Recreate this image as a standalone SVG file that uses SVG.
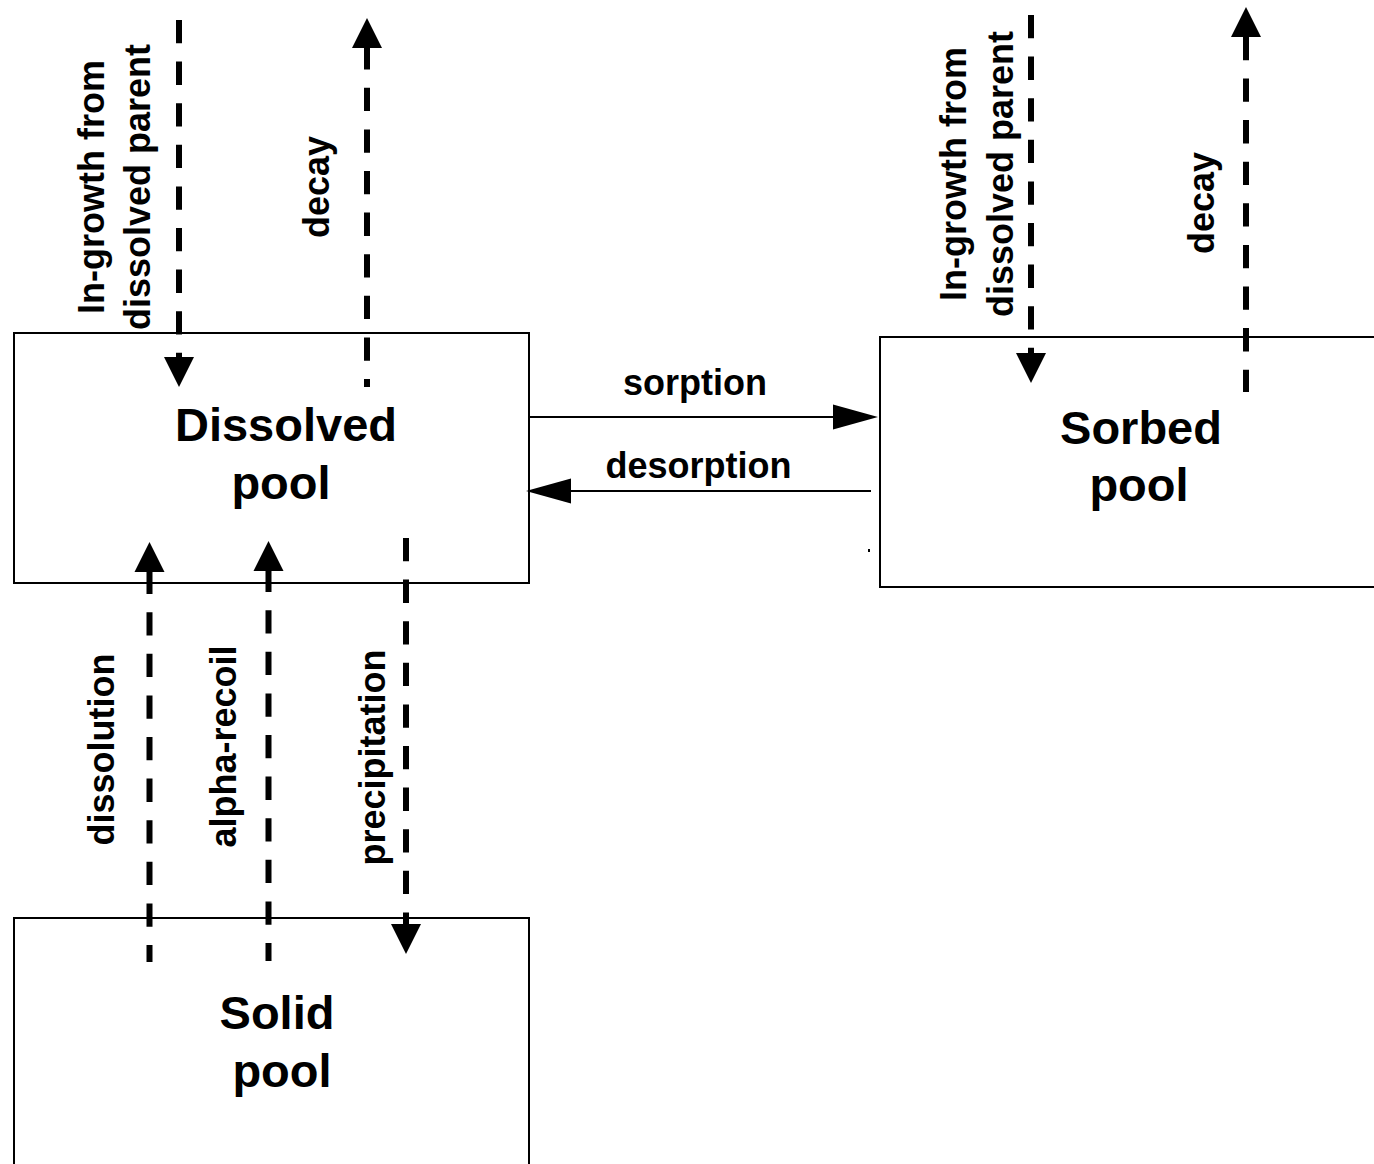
<svg xmlns="http://www.w3.org/2000/svg" width="1374" height="1164" viewBox="0 0 1374 1164">
<style>
.box{fill:#fff;stroke:#000;stroke-width:2}
.big{font-family:"Liberation Sans",Arial,sans-serif;font-weight:bold;font-size:47px;text-anchor:middle;fill:#000}
.lbl{font-family:"Liberation Sans",Arial,sans-serif;font-weight:bold;font-size:36px;text-anchor:middle;fill:#000}
.dash{fill:none;stroke:#000;stroke-width:6;stroke-dasharray:23.3 18.3;marker-end:url(#vh)}
.solid{fill:none;stroke:#000;stroke-width:2;marker-end:url(#hh)}
</style>
<defs>
<marker id="vh" markerUnits="userSpaceOnUse" viewBox="0 -15 30 30" refX="0" refY="0" markerWidth="30" markerHeight="30" orient="auto" overflow="visible">
<path d="M0,-15 L30,0 L0,15 Z" fill="#000"/>
</marker>
<marker id="hh" markerUnits="userSpaceOnUse" viewBox="0 -13 45 26" refX="0" refY="0" markerWidth="45" markerHeight="26" orient="auto" overflow="visible">
<path d="M0,-12.5 L45,0 L0,12.5 Z" fill="#000"/>
</marker>
</defs>
<rect width="1374" height="1164" fill="#fff"/>
<g id="dissolved">
<rect class="box" x="14" y="333" width="515" height="250"/>
<text class="big" x="286" y="441">Dissolved</text>
<text class="big" x="281" y="499">pool</text>
</g>
<g id="sorbed">
<rect class="box" x="880" y="337" width="600" height="250"/>
<text class="big" x="1141" y="444">Sorbed</text>
<text class="big" x="1139" y="501">pool</text>
<rect x="868" y="549" width="2" height="3" fill="#000"/>
</g>
<g id="solid">
<rect class="box" x="14" y="918" width="515" height="300"/>
<text class="big" x="277" y="1029">Solid</text>
<text class="big" x="282" y="1087">pool</text>
</g>
<g id="connectors">
<path class="dash" d="M179,20 V357"/>
<path class="dash" d="M367,387 V48" style="stroke-dashoffset:15.3"/>
<path class="dash" d="M1031,15 V353"/>
<path class="dash" d="M1246,392 V37" style="stroke-dashoffset:1"/>
<path class="dash" d="M149.5,962 V572" style="stroke-dashoffset:6.3"/>
<path class="dash" d="M268.5,961 V571" style="stroke-dashoffset:5.3"/>
<path class="dash" d="M406,538 V924"/>
<path class="solid" d="M529,417 H833"/>
<path class="solid" d="M871,491 H571"/>
</g>
<g id="labels">
<text class="lbl" transform="translate(104,187) rotate(-90)">In-growth from</text>
<text class="lbl" transform="translate(150,187) rotate(-90)">dissolved parent</text>
<text class="lbl" transform="translate(329,187) rotate(-90)">decay</text>
<text class="lbl" transform="translate(966,174) rotate(-90)">In-growth from</text>
<text class="lbl" transform="translate(1013,174) rotate(-90)">dissolved parent</text>
<text class="lbl" transform="translate(1214,203) rotate(-90)">decay</text>
<text class="lbl" x="695" y="395">sorption</text>
<text class="lbl" x="698.5" y="478">desorption</text>
<text class="lbl" transform="translate(114,749.5) rotate(-90)">dissolution</text>
<text class="lbl" transform="translate(236,746.5) rotate(-90)">alpha-recoil</text>
<text class="lbl" transform="translate(385,757.5) rotate(-90)">precipitation</text>
</g>
</svg>
